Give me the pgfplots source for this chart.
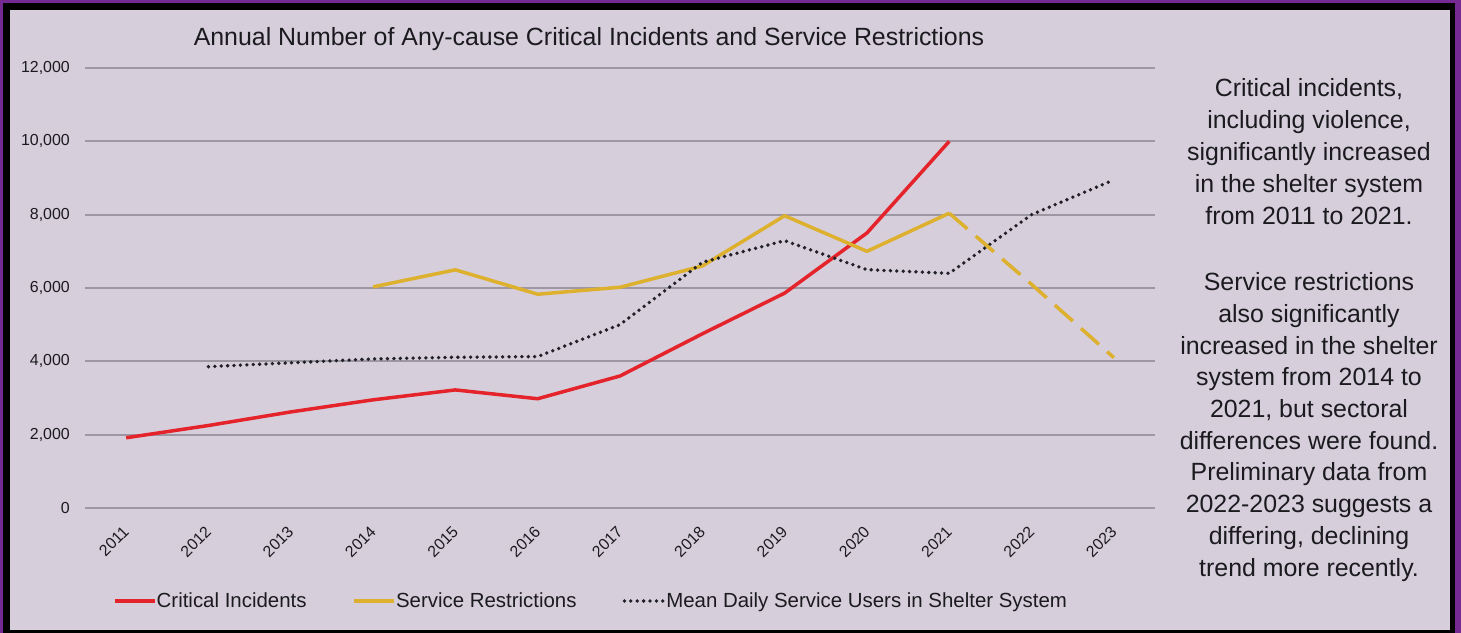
\documentclass[border=0pt]{standalone}
\usepackage{pgfplots}
\pgfplotsset{compat=1.18}
\usepackage{fontspec}
\setmainfont{Liberation Sans}
\definecolor{bgl}{HTML}{D6CEDB}
\definecolor{purp}{HTML}{742A92}
\definecolor{cred}{HTML}{E4232B}
\definecolor{cyel}{HTML}{DDB12E}
\definecolor{gridc}{HTML}{9D97A3}
\definecolor{dotc}{HTML}{202026}
\definecolor{txt}{HTML}{1B1B1F}
\begin{document}
\begin{tikzpicture}[x=1bp,y=1bp]
\path[use as bounding box] (0,0) rectangle (1461,633);
\fill[purp] (0,0) rectangle (1461,633);
\fill[black] (3,0) rectangle (1455,630);
\fill[bgl] (10,3) rectangle (1450,623);
\begin{axis}[
  at={(85bp,125bp)}, anchor=south west,
  scale only axis, width=1070bp, height=440bp,
  xmin=2010.5, xmax=2023.5, ymin=0, ymax=12000,
  scaled y ticks=false,
  axis line style={draw=none},
  major tick length=0pt,
  xtick={2011,2012,2013,2014,2015,2016,2017,2018,2019,2020,2021,2022,2023},
  xticklabels={2011,2012,2013,2014,2015,2016,2017,2018,2019,2020,2021,2022,2023},
  ytick={0,2000,4000,6000,8000,10000,12000},
  yticklabels={0,{2,000},{4,000},{6,000},{8,000},{10,000},{12,000}},
  ymajorgrids, major grid style={gridc, line width=2bp},
  tick label style={font=\fontsize{16}{18}\selectfont, text=txt},
  yticklabel style={anchor=east, inner sep=0pt, xshift=-15bp},
  xticklabel style={yshift=-21bp, rotate=45, anchor=east, inner sep=0pt},
  clip=false,
  legend columns=3,
  legend style={draw=none, fill=none, at={(0.0262,-0.2114)}, anchor=west,
    font=\fontsize{20.5}{24}\selectfont, text=txt, inner sep=0pt,
    nodes={inner sep=0pt},
    /tikz/every even column/.append style={column sep=46bp}},
  legend cell align=left,
  legend image code/.code={\draw[#1] (0bp,0bp) -- (40bp,0bp);},
]
\addplot[cred, line width=3.5bp, line join=round] coordinates {(2011,1915) (2012,2250) (2013,2620) (2014,2950) (2015,3220) (2016,2980) (2017,3600) (2018,4750) (2019,5860) (2020,7500) (2021,10000)};
\addlegendentry{Critical Incidents}
\addplot[cyel, line width=3.5bp, line join=round] coordinates {(2014,6030) (2015,6495) (2016,5830) (2017,6020) (2018,6600) (2019,7970) (2020,7000) (2021,8040)};
\addlegendentry{Service Restrictions}
\addplot[dotc, line width=3.8bp, line cap=round, dash pattern=on 0bp off 6.4bp] coordinates {(2012,3855) (2013,3960) (2014,4065) (2015,4110) (2016,4130) (2017,5000) (2018,6700) (2019,7290) (2020,6500) (2021,6400) (2022,8000) (2023,8950)};
\addlegendentry{Mean Daily Service Users in Shelter System}
\addplot[cyel, line width=3.5bp, dash pattern=on 24bp off 11bp, forget plot] coordinates {(2021,8040) (2022,6100) (2023,4100)};
\end{axis}
\node[anchor=base, font=\fontsize{25}{30}\selectfont, text=txt, inner sep=0pt] at (589,587.3) {Annual Number of Any-cause Critical Incidents and Service Restrictions};
\begin{scope}[every node/.style={anchor=base, font=\fontsize{25}{30}\selectfont, text=txt, inner sep=0pt}]
\node at (1309,536.0) {Critical incidents,};
\node at (1309,504.2) {including violence,};
\node at (1309,472.4) {significantly increased};
\node at (1309,440.6) {in the shelter system};
\node at (1309,408.8) {from 2011 to 2021.};
\node at (1309,342.2) {Service restrictions};
\node at (1309,310.5) {also significantly};
\node at (1309,278.8) {increased in the shelter};
\node at (1309,247.1) {system from 2014 to};
\node at (1309,215.4) {2021, but sectoral};
\node at (1309,183.7) {differences were found.};
\node at (1309,152.0) {Preliminary data from};
\node at (1309,120.3) {2022-2023 suggests a};
\node at (1309,88.6) {differing, declining};
\node at (1309,56.9) {trend more recently.};
\end{scope}
\end{tikzpicture}
\end{document}
